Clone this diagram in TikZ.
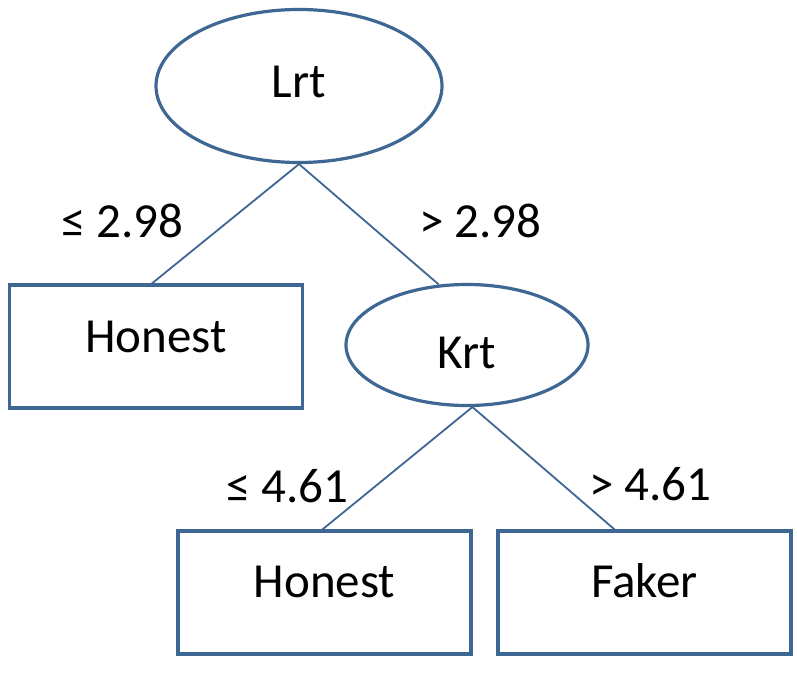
\documentclass[tikz,border=0pt]{standalone}
\usepackage{fontspec}
\setmainfont{Carlito}
\usetikzlibrary{shapes.geometric,calc}
\definecolor{edgecol}{RGB}{62,103,148}
\begin{document}
\begin{tikzpicture}[x=1pt,y=-1pt,
  txt/.style={font=\fontsize{49}{54}\selectfont, text=black},
  oval/.style={ellipse, draw=edgecol, line width=3.2pt, inner sep=0pt, txt},
  leaf/.style={rectangle, draw=edgecol, line width=3.2pt, inner sep=0pt, txt, minimum width=293pt, minimum height=123pt, text depth=0pt},
  conn/.style={draw=edgecol, line width=1.8pt},
  cond/.style={txt, anchor=base west, inner sep=0pt}]
\useasboundingbox (0,0) rectangle (797,676);
\fill[white] (0,0) rectangle (797,676);
\node[oval, minimum width=286pt, minimum height=153pt, text height=24pt, text depth=0pt] (lrt) at (299,86) {Lrt};
\node[oval, minimum width=242pt, minimum height=121pt, text height=46pt, text depth=0pt] (krt) at (467,345) {Krt};
\node[leaf, text height=11pt] (h1) at (156,346.5) {Honest};
\node[leaf, text height=9pt] (h2) at (324.5,592.5) {Honest};
\node[leaf, text height=9pt] (fk) at (644.5,592.5) {Faker};
\node[cond] (c1) at (61,238) {≤ 2.98};
\node[cond] (c2) at (419,238) {> 2.98};
\node[cond] (c3) at (226,502) {≤ 4.61};
\node[cond] (c4) at (589,500) {> 4.61};
\draw[conn] (lrt.south) -- ($(h1.north)+(-4,0)$);
\draw[conn] (lrt.south) -- (krt.115);
\draw[conn] (krt.-85) -- ($(h2.north)+(-2,0)$);
\draw[conn] (krt.-85) -- ($(fk.north)+(-30,0)$);
\end{tikzpicture}
\end{document}
